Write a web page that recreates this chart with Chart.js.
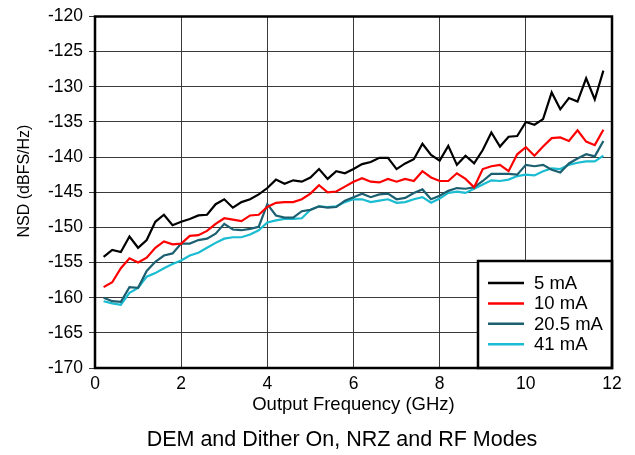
<!DOCTYPE html>
<html>
<head>
<meta charset="utf-8">
<script src="https://cdn.jsdelivr.net/npm/chart.js@4"></script>
<style>
  html, body { margin: 0; padding: 0; background: #fff; }
  #wrap { width: 635px; height: 455px; }
</style>
</head>
<body>
<div id="wrap"><canvas id="nsdChart" width="635" height="455"></canvas></div>
<script>
// Output frequency (GHz)
const freqs = [0.2, 0.4, 0.6, 0.8, 1.0, 1.2, 1.4, 1.6, 1.8, 2.0,
  2.2, 2.4, 2.6, 2.8, 3.0, 3.2, 3.4, 3.6, 3.8, 4.0,
  4.2, 4.4, 4.6, 4.8, 5.0, 5.2, 5.4, 5.6, 5.8, 6.0,
  6.2, 6.4, 6.6, 6.8, 7.0, 7.2, 7.4, 7.6, 7.8, 8.0,
  8.2, 8.4, 8.6, 8.8, 9.0, 9.2, 9.4, 9.6, 9.8, 10.0,
  10.2, 10.4, 10.6, 10.8, 11.0, 11.2, 11.4, 11.6, 11.8];

// NSD (dBFS/Hz) per current setting
const nsd5mA = [-154.2, -153.2, -153.5, -151.3, -152.9, -151.8, -149.2, -148.2, -149.7, -149.2,
  -148.8, -148.3, -148.2, -146.7, -146.0, -147.2, -146.4, -146.0, -145.3, -144.4,
  -143.2, -143.8, -143.3, -143.5, -142.9, -141.7, -143.1, -142.0, -142.3, -141.7,
  -141.0, -140.7, -140.1, -140.1, -141.7, -140.9, -140.3, -138.1, -139.7, -140.5,
  -138.4, -141.1, -139.8, -140.9, -139.0, -136.5, -138.5, -137.1, -137.0, -135.0,
  -135.4, -134.6, -130.8, -133.2, -131.6, -132.1, -128.8, -131.8, -127.7];

const nsd10mA = [-158.5, -157.8, -155.8, -154.4, -155.0, -154.3, -152.9, -152.0, -152.4, -152.3,
  -151.2, -151.1, -150.5, -149.5, -148.7, -148.9, -149.1, -148.3, -148.2, -147.1,
  -146.5, -146.4, -146.4, -146.0, -145.2, -144.0, -145.0, -144.9, -144.2, -143.5,
  -143.0, -143.5, -143.6, -143.1, -143.5, -143.1, -143.4, -142.0, -142.9, -143.4,
  -143.4, -142.3, -143.1, -144.3, -141.7, -141.3, -141.1, -142.0, -139.6, -138.6,
  -139.8, -138.5, -137.3, -137.2, -137.7, -136.2, -137.8, -138.3, -136.1];

const nsd20_5mA = [-160.0, -160.5, -160.6, -158.5, -158.6, -156.2, -154.9, -154.0, -153.7, -152.3,
  -152.3, -151.8, -151.6, -150.9, -149.5, -150.3, -150.4, -150.2, -149.9, -146.7,
  -148.3, -148.6, -148.6, -147.7, -147.5, -147.0, -147.2, -147.1, -146.2, -145.7,
  -145.2, -145.7, -145.3, -145.2, -146.0, -145.8, -145.1, -144.6, -146.0, -145.5,
  -144.8, -144.4, -144.5, -144.3, -143.4, -142.4, -142.4, -142.4, -142.5, -141.1,
  -141.3, -141.1, -141.8, -142.2, -140.9, -140.2, -139.6, -139.9, -137.7];

const nsd41mA = [-160.5, -160.8, -161.0, -159.3, -158.6, -157.0, -156.5, -155.8, -155.2, -154.7,
  -154.0, -153.6, -152.9, -152.2, -151.6, -151.4, -151.4, -151.0, -150.4, -149.3,
  -149.0, -148.8, -148.8, -148.7, -147.5, -147.0, -147.1, -147.0, -146.4, -146.0,
  -146.0, -146.4, -146.2, -146.0, -146.5, -146.4, -146.0, -145.7, -146.5, -145.9,
  -145.1, -144.9, -145.1, -144.5, -143.9, -143.3, -143.4, -143.2, -142.7, -142.5,
  -142.6, -142.0, -141.6, -141.7, -141.1, -140.8, -140.6, -140.6, -139.8];

const seriesLabels = ['5 mA', '10 mA', '20.5 mA', '41 mA'];
const seriesColors = ['#000000', '#ff0000', '#1b5f70', '#19bcd0'];
const seriesData = [nsd5mA, nsd10mA, nsd20_5mA, nsd41mA];

const FONT = "'Liberation Sans', Arial, sans-serif";

// marco, leyenda en caja, título Y y pie de figura
const framePlugin = {
  id: 'framePlugin',
  afterDatasetsDraw(chart) {
    const { ctx, chartArea: a } = chart;
    ctx.save();

    // leyenda abajo a la derecha
    const bx = 478, by = 261;
    ctx.fillStyle = '#fff';
    ctx.fillRect(bx, by, a.right - bx, a.bottom - by);
    ctx.strokeStyle = '#000';
    ctx.lineWidth = 2.5;
    ctx.strokeRect(bx, by, a.right - bx, a.bottom - by);
    ctx.font = '18.5px ' + FONT;
    ctx.textBaseline = 'middle';
    ctx.textAlign = 'left';
    chart.data.datasets.forEach((ds, i) => {
      const y = 283 + i * 20.4;
      ctx.strokeStyle = ds.borderColor;
      ctx.lineWidth = 2.5;
      ctx.beginPath();
      ctx.moveTo(488, y);
      ctx.lineTo(524, y);
      ctx.stroke();
      ctx.fillStyle = '#000';
      ctx.fillText(ds.label, 534, y + 1);
    });

    // marco grueso
    ctx.strokeStyle = '#000';
    ctx.lineWidth = 2.5;
    ctx.strokeRect(a.left, a.top, a.right - a.left, a.bottom - a.top);

    // título eje Y
    ctx.fillStyle = '#000';
    ctx.font = '16px ' + FONT;
    ctx.textAlign = 'center';
    ctx.translate(25, 181);
    ctx.rotate(-Math.PI / 2);
    ctx.fillText('NSD (dBFS/Hz)', 0, 0);
    ctx.setTransform(1, 0, 0, 1, 0, 0);

    // pie de figura
    ctx.font = '21.5px ' + FONT;
    ctx.fillText('DEM and Dither On, NRZ and RF Modes', 342, 440);
    ctx.restore();
  }
};

const ctx = document.getElementById('nsdChart').getContext('2d');
const chart = new Chart(ctx, {
  type: 'line',
  data: {
    datasets: seriesData.map((vals, i) => ({
      label: seriesLabels[i],
      data: freqs.map((f, k) => ({ x: f, y: vals[k] })),
      borderColor: seriesColors[i],
      backgroundColor: seriesColors[i],
      borderWidth: 2.2,
      pointRadius: 0,
      tension: 0,
      fill: false
    }))
  },
  options: {
    responsive: false,
    animation: false,
    devicePixelRatio: 1,
    layout: { padding: { top: 14, right: 23, left: 0, bottom: 38.5 } },
    plugins: {
      legend: { display: false },
      tooltip: { enabled: false }
    },
    scales: {
      x: {
        type: 'linear',
        min: 0,
        max: 12,
        ticks: { stepSize: 2, color: '#000', padding: 6, font: { family: FONT, size: 17.5 } },
        grid: { color: '#3a3a3a', lineWidth: 1, drawTicks: false },
        border: { display: false },
        title: {
          display: true,
          text: 'Output Frequency (GHz)',
          color: '#000',
          padding: 0,
          font: { family: FONT, size: 18.5 }
        },
        afterFit: (s) => { s.height = 48.5; }
      },
      y: {
        min: -170,
        max: -120,
        ticks: { stepSize: 5, color: '#000', padding: 6, font: { family: FONT, size: 17.5 } },
        grid: { color: '#3a3a3a', lineWidth: 1, drawTicks: true, tickLength: 6 },
        border: { display: false },
        afterFit: (s) => { s.width = 95; }
      }
    }
  },
  plugins: [framePlugin]
});
</script>
</body>
</html>
